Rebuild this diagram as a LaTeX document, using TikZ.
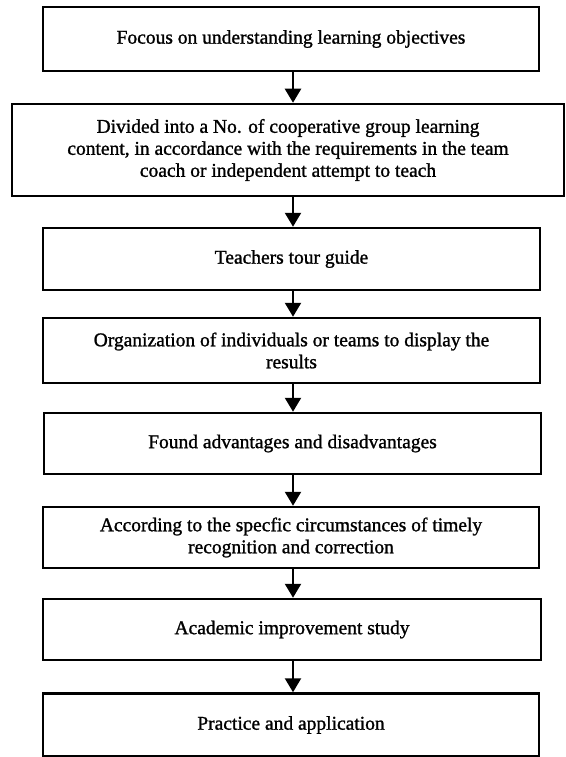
\documentclass[tikz,border=0pt]{standalone}
\usepackage{fontspec}
\setmainfont{Liberation Serif}
\newfontfamily\heavyserif{Liberation Serif}[FakeBold=1.2]
\usetikzlibrary{arrows.meta}
\begin{document}
\begin{tikzpicture}[x=1pt,y=-1pt,
  stepbox/.style={draw=black, line width=2.5pt, rectangle, inner sep=0pt, align=center,
    font=\heavyserif\fontsize{19.5}{22}\selectfont},
  arr/.style={line width=2.3pt, -{Triangle[length=14pt,width=16pt]}}]
\useasboundingbox (0,0) rectangle (565,757);
\fill[white] (0,0) rectangle (565,757);
\coordinate (ax) at (293,0);
\node[stepbox, minimum width=496pt, minimum height=64pt] (b1) at (291,39) {Focous on understanding learning objectives};
\node[stepbox, minimum width=552pt, minimum height=92pt] (b2) at (288,150) {Divided into a No. of cooperative group learning\\content, in accordance with the requirements in the team\\coach or independent attempt to teach};
\node[stepbox, minimum width=497pt, minimum height=62pt] (b3) at (291.5,259) {Teachers tour guide};
\node[stepbox, minimum width=497pt, minimum height=65pt] (b4) at (291.5,350.5) {Organization of individuals or teams to display the\\results};
\node[stepbox, minimum width=497pt, minimum height=61pt] (b5) at (292.5,443.5) {Found advantages and disadvantages};
\node[stepbox, minimum width=496pt, minimum height=61pt] (b6) at (291,537.5) {According to the specfic circumstances of timely\\recognition and correction};
\node[stepbox, minimum width=498pt, minimum height=61pt] (b7) at (292,629.5) {Academic improvement study};
\node[stepbox, minimum width=496pt, minimum height=63pt] (b8) at (291,725) {Practice and application};
\foreach \a/\b in {b1/b2,b2/b3,b3/b4,b4/b5,b5/b6,b6/b7,b7/b8}
  \draw[arr] (\a.south -| ax) -- (\b.north -| ax);
\end{tikzpicture}
\end{document}
